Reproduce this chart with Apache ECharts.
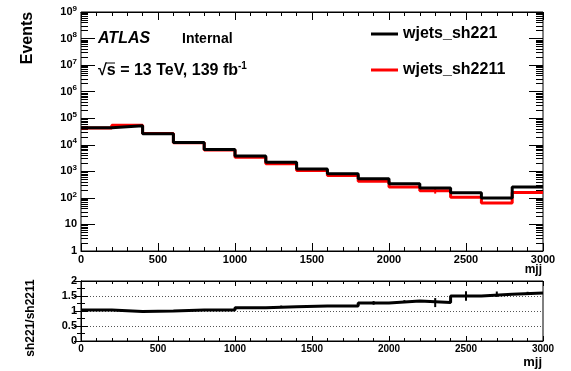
<!DOCTYPE html>
<html>
<head>
<meta charset="utf-8">
<script src="https://cdn.jsdelivr.net/npm/echarts@6/dist/echarts.min.js"></script>
<style>
  html, body { margin: 0; padding: 0; background: #fff; }
  #chart { width: 571px; height: 371px; }
</style>
</head>
<body>
<div id="chart"></div>
<script>
// Bin edges of the dijet mass histogram (GeV)
const binEdges = [0, 200, 400, 600, 800, 1000, 1200, 1400, 1600, 1800, 2000, 2200, 2400, 2600, 2800, 3000];
// Event yields per bin
const sh221 = [44000, 52000, 26000, 12300, 6700, 3800, 2200, 1230, 810, 527, 340, 235, 157, 100, 257];
const sh2211 = [43000, 54000, 26500, 12000, 6300, 3400, 1950, 1080, 700, 420, 258, 185, 105, 64, 160];
const sh2211Err = [200, 250, 150, 80, 50, 30, 20, 12, 10, 8, 6, 40, 5, 4, 6];
// Ratio sh221 / sh2211 and its uncertainty
const ratio = [1.03, 0.98, 1.0, 1.03, 1.03, 1.11, 1.14, 1.17, 1.17, 1.27, 1.33, 1.28, 1.50, 1.56, 1.60];
const ratioErr = [0.005, 0.005, 0.005, 0.008, 0.01, 0.015, 0.04, 0.02, 0.03, 0.06, 0.03, 0.15, 0.16, 0.09, 0.04];
// Axis tick values
const decadeTicks = [1, 10, 100, 1e3, 1e4, 1e5, 1e6, 1e7, 1e8, 1e9];
const ratioTicks = [0, 0.5, 1, 1.5, 2];

const FONT = '"Liberation Sans", Arial, Helvetica, sans-serif';

const minorLogTicks = [];
for (let e = 0; e < 9; e++) {
  for (let m = 2; m <= 9; m++) minorLogTicks.push(m * Math.pow(10, e));
}

// Histogram outline: a flat segment across each bin, joined by vertical steps
function stepPoints(values) {
  const pts = [];
  values.forEach((v, i) => {
    pts.push([binEdges[i], v]);
    pts.push([binEdges[i + 1], v]);
  });
  return pts;
}
function errPoints(values, errs) {
  return values.map((v, i) => [(binEdges[i] + binEdges[i + 1]) / 2, v, errs[i]]);
}
function errRender(params, api) {
  const x = api.value(0), y = api.value(1), e = api.value(2);
  const p1 = api.coord([x, y - e]);
  const p2 = api.coord([x, y + e]);
  return {
    type: 'line',
    shape: { x1: p1[0], y1: p1[1], x2: p2[0], y2: p2[1] },
    style: { stroke: api.visual('color'), lineWidth: 2 }
  };
}

const chart = echarts.init(document.getElementById('chart'), null, { renderer: 'canvas' });

const labelStyle = { color: '#000', fontFamily: FONT, fontWeight: 'bold', fontSize: 11 };

function logAxis(pos, ticks, len, labels) {
  return {
    type: 'log', gridIndex: 0, position: pos, min: 1, max: 1e9, logBase: 10,
    axisLine: { show: false },
    axisTick: { show: true, inside: true, length: len, customValues: ticks, lineStyle: { color: '#000', width: 1 } },
    axisLabel: labels ? {
      show: true, customValues: decadeTicks, margin: 4, color: '#000',
      formatter: function (v) {
        const e = Math.round(Math.log10(v));
        if (e === 0) return '{b|1}';
        if (e === 1) return '{b|10}';
        return '{b|10}{s|' + e + '}';
      },
      rich: {
        b: { fontFamily: FONT, fontWeight: 'bold', fontSize: 11, color: '#000' },
        s: { fontFamily: FONT, fontWeight: 'bold', fontSize: 8, color: '#000', padding: [0, 0, 7, 0] }
      }
    } : { show: false },
    splitLine: { show: false }
  };
}

function xAxisDef(grid, pos, labels, tickLen, minorLen, fontSize) {
  return {
    type: 'value', gridIndex: grid, position: pos, min: 0, max: 3000, interval: 500,
    axisLine: { show: true, onZero: false, lineStyle: { color: '#000', width: 1 } },
    axisTick: { show: true, inside: true, length: tickLen, lineStyle: { color: '#000', width: 1 } },
    minorTick: { show: true, splitNumber: 5, length: minorLen, lineStyle: { color: '#000', width: 1 } },
    axisLabel: labels ? Object.assign({ show: true, margin: 3 }, labelStyle, {
      fontSize: fontSize, formatter: v => String(v)
    }) : { show: false },
    splitLine: { show: false }
  };
}

function ratioYAxis(pos, labels) {
  return {
    type: 'value', gridIndex: 1, position: pos, min: 0, max: 2, interval: 0.5,
    axisLine: { show: true, lineStyle: { color: '#000', width: 1 } },
    axisTick: { show: true, inside: true, length: 7, lineStyle: { color: '#000', width: 1 } },
    minorTick: { show: true, splitNumber: 2, length: 4, lineStyle: { color: '#000', width: 1 } },
    axisLabel: labels ? Object.assign({ show: true, margin: 4 }, labelStyle, {
      formatter: v => ratioTicks.includes(v) ? String(v) : ''
    }) : { show: false },
    splitLine: labels ? { show: true, lineStyle: { color: '#555', type: [1, 2], width: 1 } } : { show: false }
  };
}

const option = {
  backgroundColor: '#fff',
  animation: false,
  grid: [
    { left: 81, top: 12, width: 462, height: 239, show: true, borderColor: '#000', borderWidth: 1, backgroundColor: 'transparent' },
    { left: 81, top: 281, width: 462, height: 60, show: true, borderColor: '#000', borderWidth: 1, backgroundColor: 'transparent' }
  ],
  xAxis: [
    xAxisDef(0, 'bottom', true, 8, 4, 11),
    xAxisDef(0, 'top', false, 8, 4, 11),
    xAxisDef(1, 'bottom', true, 5, 3, 10),
    xAxisDef(1, 'top', false, 5, 3, 10)
  ],
  yAxis: [
    logAxis('left', decadeTicks, 14, true),
    logAxis('left', minorLogTicks, 7, false),
    logAxis('right', decadeTicks, 14, false),
    logAxis('right', minorLogTicks, 7, false),
    ratioYAxis('left', true),
    ratioYAxis('right', false)
  ],
  legend: {
    data: ['wjets_sh221', 'wjets_sh2211'],
    orient: 'vertical', left: 371, top: 26, padding: 0,
    itemWidth: 27, itemHeight: 3, itemGap: 20,
    icon: 'rect',
    textStyle: { color: '#000', fontFamily: FONT, fontWeight: 'bold', fontSize: 16 },
    selectedMode: false
  },
  series: [
    {
      name: 'wjets_sh2211', type: 'line', xAxisIndex: 0, yAxisIndex: 0,
      data: stepPoints(sh2211), showSymbol: false, symbol: 'none',
      color: '#ff0000', lineStyle: { color: '#ff0000', width: 3 },
      itemStyle: { color: '#ff0000' }, z: 2
    },
    {
      name: 'wjets_sh221', type: 'line', xAxisIndex: 0, yAxisIndex: 0,
      data: stepPoints(sh221), showSymbol: false, symbol: 'none',
      color: '#000', lineStyle: { color: '#000', width: 3 },
      itemStyle: { color: '#000' }, z: 3
    },
    {
      type: 'custom', xAxisIndex: 0, yAxisIndex: 0, renderItem: errRender,
      data: errPoints(sh2211, sh2211Err), itemStyle: { color: '#ff0000' }, z: 2
    },
    {
      type: 'line', xAxisIndex: 2, yAxisIndex: 4,
      data: stepPoints(ratio), showSymbol: false, symbol: 'none',
      lineStyle: { color: '#000', width: 3 }, z: 3
    },
    {
      type: 'custom', xAxisIndex: 2, yAxisIndex: 4, renderItem: errRender,
      data: errPoints(ratio, ratioErr), itemStyle: { color: '#000' }, z: 3
    }
  ],
  graphic: [
    {
      type: 'text', x: 28, y: 38, rotation: Math.PI / 2,
      style: { text: 'Events', fill: '#000', font: 'bold 16px ' + FONT, align: 'center', verticalAlign: 'middle' }
    },
    {
      type: 'text', x: 31, y: 318, rotation: Math.PI / 2,
      style: { text: 'sh221/sh2211', fill: '#000', font: 'bold 12px ' + FONT, align: 'center', verticalAlign: 'middle' }
    },
    {
      type: 'text', x: 98, y: 39,
      style: { text: 'ATLAS', fill: '#000', font: 'italic bold 16px ' + FONT, align: 'left', verticalAlign: 'middle' }
    },
    {
      type: 'text', x: 182, y: 39,
      style: { text: 'Internal', fill: '#000', font: 'bold 14px ' + FONT, align: 'left', verticalAlign: 'middle' }
    },
    {
      type: 'text', x: 98, y: 71,
      style: {
        text: '{n|√s = 13 TeV, 139 fb}{s|-1}', align: 'left', verticalAlign: 'middle',
        rich: {
          n: { fill: '#000', fontFamily: FONT, fontWeight: 'bold', fontSize: 16 },
          s: { fill: '#000', fontFamily: FONT, fontWeight: 'bold', fontSize: 10, padding: [0, 0, 9, 0] }
        }
      }
    },
    {
      type: 'line', shape: { x1: 106, y1: 63, x2: 115, y2: 63 },
      style: { stroke: '#000', lineWidth: 1 }
    },
    {
      type: 'text', x: 542, y: 270,
      style: { text: 'mjj', fill: '#000', font: 'bold 12px ' + FONT, align: 'right', verticalAlign: 'middle' }
    },
    {
      type: 'text', x: 542, y: 362,
      style: { text: 'mjj', fill: '#000', font: 'bold 13px ' + FONT, align: 'right', verticalAlign: 'middle' }
    }
  ]
};

chart.setOption(option);
</script>
</body>
</html>
